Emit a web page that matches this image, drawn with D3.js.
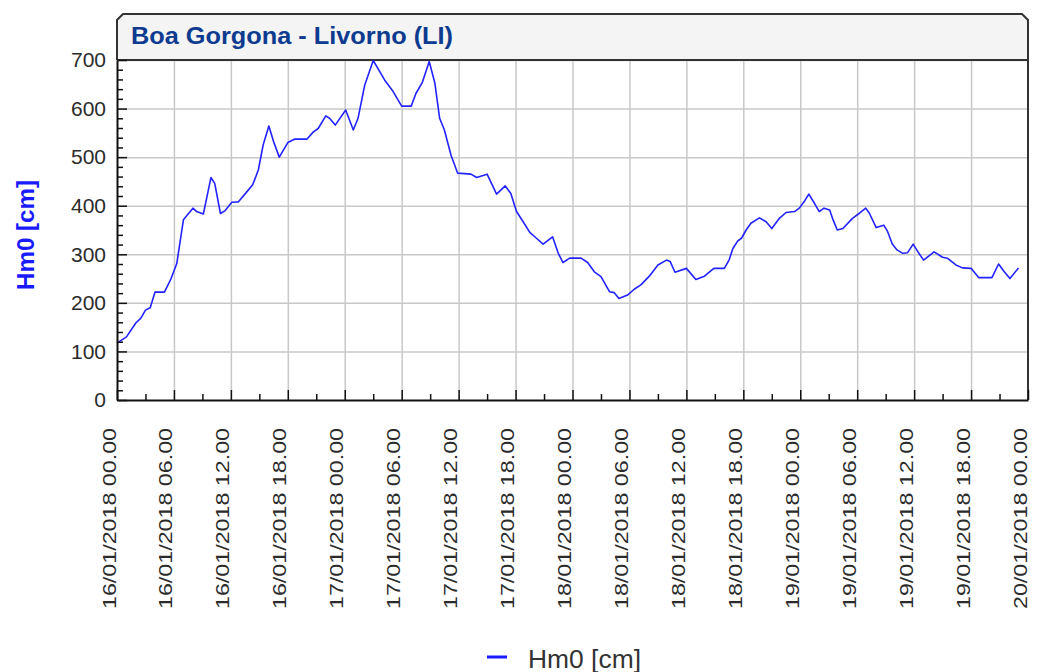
<!DOCTYPE html>
<html lang="it">
<head>
<meta charset="UTF-8">
<title>Boa Gorgona - Livorno (LI)</title>
<script src="https://cdn.jsdelivr.net/npm/d3@7"></script>
<style>
    body { margin: 0; background: #fff; }
    svg { display: block; font-family: "Liberation Sans", Arial, sans-serif; }
    .grid line { stroke: #c8c8c8; stroke-width: 1.5; }
    .grid path { display: none; }
    .axis path, .axis line { stroke: #111; }
    .axis text { fill: #2b2b2b; }
</style>
</head>
<body>
<svg id="chart" width="1038" height="672"></svg>
<script>
    // ore dall'inizio (16/01/2018 00.00) e valori Hm0
    var hours = [0, 1, 2, 2.5, 3, 3.5, 4, 5, 5.7, 6.3, 7, 8, 8.4, 9.1, 9.9, 10.3, 10.9, 11.4, 12.1, 12.8,
        13.7, 14.3, 14.9, 15.4, 16, 16.5, 17.1, 18, 18.7, 20, 20.7, 21.2, 22, 22.4, 23, 24.1, 24.9, 25.4,
        26.1, 27, 28.2, 29.1, 30, 31, 31.5, 32.2, 32.9, 33.5, 34, 34.5, 35.2, 35.9, 37.3, 37.9, 39, 40,
        40.9, 41.5, 42.1, 42.8, 43.5, 44.2, 44.9, 45.9, 46.5, 47, 47.7, 48.9, 49.6, 50.3, 51, 51.9, 52.4,
        52.9, 53.8, 54.5, 55.2, 56.1, 57, 57.9, 58.3, 58.8, 60, 61, 61.9, 62.9, 64, 64.5, 64.9, 65.4, 65.8,
        66.3, 66.8, 67.7, 68.4, 69, 69.8, 70.5, 71.4, 71.9, 72.4, 72.9, 73.5, 74, 74.5, 75.1, 75.4, 75.9,
        76.5, 77.5, 78.2, 78.9, 79.3, 80, 80.8, 81.2, 81.7, 82.2, 82.8, 83.3, 83.9, 84.5, 85, 86.1, 87,
        87.5, 88.4, 89.1, 90, 90.3, 90.8, 92.2, 92.9, 93.5, 94.1, 95];
    var hm0 = [117, 130, 159, 168, 185, 190, 222, 222, 250, 281, 371, 395, 388, 383, 458, 446, 384, 390, 407, 408,
        429, 443, 474, 525, 564, 532, 500, 530, 537, 537, 552, 559, 585, 580, 566, 597, 556, 580,
        648, 699, 659, 635, 605, 605, 631, 655, 697, 652, 580, 556, 504, 467, 465, 458, 465, 424,
        441, 425, 388, 367, 345, 333, 321, 336, 302, 283, 292, 292, 283, 264, 254, 223, 221,
        209, 216, 228, 237, 255, 278, 288, 285, 263, 271, 248, 255, 271, 271, 288, 312, 327, 333,
        350, 364, 375, 367, 353, 374, 386, 388, 395, 408, 424, 405, 388, 395, 391, 374, 350,
        353, 374, 384, 395, 384, 355, 360, 347, 321, 309, 302, 303, 321, 302, 288, 305, 294,
        292, 278, 272, 271, 264, 252, 252, 280, 264, 250, 272];
    var yTicks = [0, 100, 200, 300, 400, 500, 600, 700];
    var titolo = "Boa Gorgona - Livorno (LI)";
    var serieNome = "Hm0 [cm]";

    var start = new Date(2018, 0, 16, 0, 0);
    var end = new Date(2018, 0, 20, 0, 0);
    var H = 3600 * 1000;

    var dati = hours.map(function (h, i) {
        return {t: new Date(start.getTime() + h * H), v: hm0[i]};
    });

    var pLeft = 117, pRight = 1028, pTop = 60, pBottom = 400;
    var svg = d3.select("#chart");

    var x = d3.scaleTime().domain([start, end]).range([pLeft, pRight]);
    var y = d3.scaleLinear().domain([0, 700]).range([pBottom, pTop]);

    var majorX = d3.range(0, 97, 6).map(function (h) { return new Date(start.getTime() + h * H); });
    var minorX = d3.range(3, 96, 6).map(function (h) { return new Date(start.getTime() + h * H); });
    var minorY = d3.range(0, 701, 20).filter(function (v) { return v % 100 !== 0; });

    // titolo
    svg.append("path")
        .attr("d", "M" + pLeft + "," + pTop + "V20L" + (pLeft + 6) + ",14H" + (pRight - 6) + "L" + pRight + ",20V" + pTop)
        .attr("fill", "#f4f4f4")
        .attr("stroke", "#333")
        .attr("stroke-width", 2);
    svg.append("text")
        .attr("x", 131).attr("y", 44)
        .attr("font-size", 23).attr("font-weight", "bold")
        .attr("fill", "#0d3b8f")
        .attr("textLength", 322).attr("lengthAdjust", "spacingAndGlyphs")
        .text(titolo);

    // griglia
    svg.append("g").attr("class", "grid")
        .attr("transform", "translate(0," + pBottom + ")")
        .call(d3.axisBottom(x).tickValues(majorX.slice(1, -1)).tickSize(-(pBottom - pTop)).tickFormat(""));
    svg.append("g").attr("class", "grid")
        .attr("transform", "translate(" + pLeft + ",0)")
        .call(d3.axisLeft(y).tickValues(yTicks.slice(1)).tickSize(-(pRight - pLeft)).tickFormat(""));

    // bordo
    svg.append("line").attr("x1", pLeft).attr("x2", pRight).attr("y1", pTop).attr("y2", pTop)
        .attr("stroke", "#333").attr("stroke-width", 2);
    svg.append("line").attr("x1", pRight).attr("x2", pRight).attr("y1", pTop).attr("y2", pBottom)
        .attr("stroke", "#333").attr("stroke-width", 2);

    // serie
    var linea = d3.line()
        .x(function (d) { return x(d.t); })
        .y(function (d) { return y(d.v); });
    svg.append("path")
        .datum(dati)
        .attr("d", linea)
        .attr("fill", "none")
        .attr("stroke", "#2323ff")
        .attr("stroke-width", 1.6)
        .attr("stroke-linejoin", "round");

    // asse y
    var yAxis = svg.append("g").attr("class", "axis")
        .attr("transform", "translate(" + pLeft + ",0)")
        .call(d3.axisLeft(y).tickValues(yTicks).tickSize(-10).tickPadding(11).tickSizeOuter(0));
    yAxis.selectAll("path").attr("stroke-width", 2);
    yAxis.selectAll("line").attr("stroke-width", 1.5);
    yAxis.selectAll("text").attr("font-size", 21).attr("font-family", "Liberation Sans");
    svg.append("g").attr("class", "axis")
        .attr("transform", "translate(" + pLeft + ",0)")
        .call(d3.axisLeft(y).tickValues(minorY).tickSize(-6).tickFormat("").tickSizeOuter(0))
        .selectAll("line").attr("stroke-width", 1.5);

    // asse x
    var fmt = d3.timeFormat("%d/%m/%Y %H.%M");
    var xAxis = svg.append("g").attr("class", "axis")
        .attr("transform", "translate(0," + pBottom + ")")
        .call(d3.axisBottom(x).tickValues(majorX).tickSize(-10).tickFormat(fmt).tickSizeOuter(0));
    xAxis.selectAll("path").attr("stroke-width", 2);
    xAxis.selectAll("line").attr("stroke-width", 1.5);
    xAxis.selectAll("text")
        .attr("font-size", 19)
        .attr("transform", "rotate(-90)")
        .attr("text-anchor", "end")
        .attr("x", -28).attr("y", -2).attr("dy", null)
        .attr("textLength", 181).attr("lengthAdjust", "spacingAndGlyphs");
    svg.append("g").attr("class", "axis")
        .attr("transform", "translate(0," + pBottom + ")")
        .call(d3.axisBottom(x).tickValues(minorX).tickSize(-6).tickFormat("").tickSizeOuter(0))
        .call(function (g) { g.select("path").remove(); })
        .selectAll("line").attr("stroke-width", 1.5);

    // titolo asse y
    svg.append("text")
        .attr("transform", "translate(34,235) rotate(-90)")
        .attr("text-anchor", "middle")
        .attr("font-size", 24).attr("font-weight", "bold")
        .attr("fill", "#1a1aff")
        .attr("textLength", 110).attr("lengthAdjust", "spacingAndGlyphs")
        .text(serieNome);

    // legenda
    svg.append("line").attr("x1", 487).attr("x2", 507).attr("y1", 657).attr("y2", 657)
        .attr("stroke", "#1a1aff").attr("stroke-width", 3);
    svg.append("text")
        .attr("x", 528).attr("y", 668)
        .attr("font-size", 25).attr("fill", "#333")
        .attr("textLength", 113).attr("lengthAdjust", "spacingAndGlyphs")
        .text(serieNome);
</script>
</body>
</html>
